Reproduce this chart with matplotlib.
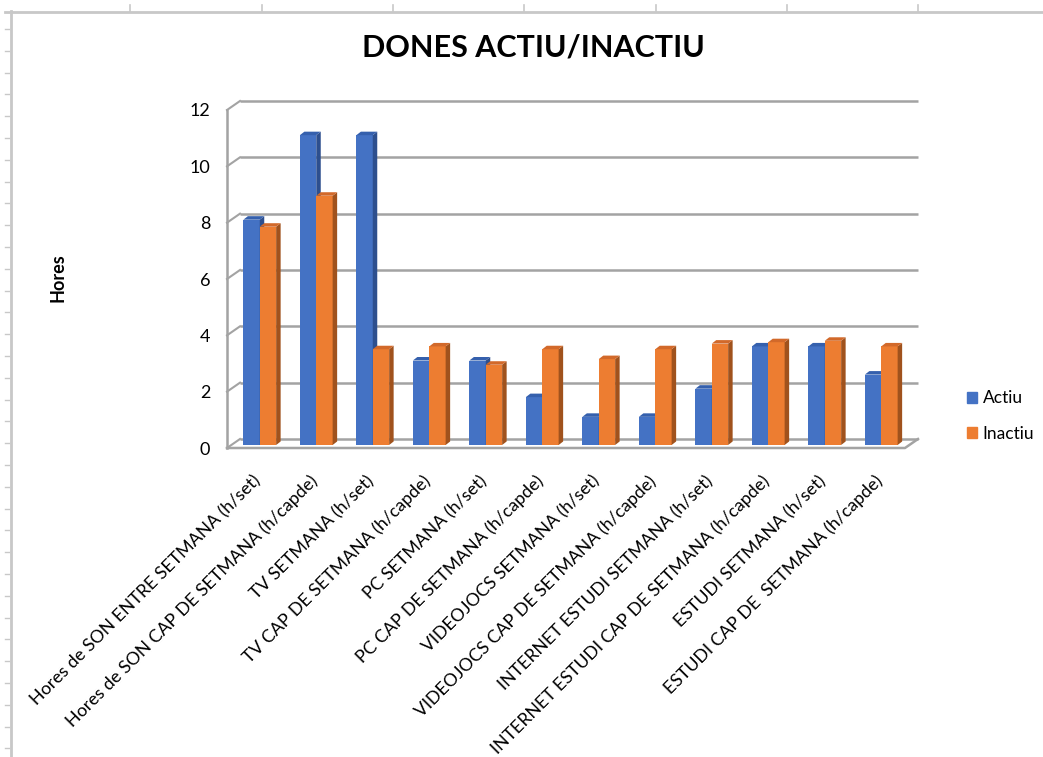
import matplotlib
matplotlib.use("Agg")
import matplotlib.pyplot as plt
from matplotlib.patches import Polygon, Patch
from matplotlib.lines import Line2D
import numpy as np

plt.rcParams['font.family'] = ['Lato', 'DejaVu Sans']

TITLE = "DONES ACTIU/INACTIU"
YLABEL = "Hores"
categories = [
    "Hores de SON ENTRE SETMANA (h/set)",
    "Hores de SON CAP DE SETMANA (h/capde)",
    "TV SETMANA (h/set)",
    "TV CAP DE SETMANA (h/capde)",
    "PC SETMANA (h/set)",
    "PC CAP DE SETMANA (h/capde)",
    "VIDEOJOCS SETMANA (h/set)",
    "VIDEOJOCS CAP DE SETMANA (h/capde)",
    "INTERNET ESTUDI SETMANA (h/set)",
    "INTERNET ESTUDI CAP DE SETMANA (h/capde)",
    "ESTUDI SETMANA (h/set)",
    "ESTUDI CAP DE  SETMANA (h/capde)",
]
actiu = [8, 11, 11, 3, 3, 1.7, 1, 1, 2, 3.5, 3.5, 2.5]
inactiu = [7.75, 8.85, 3.4, 3.5, 2.85, 3.4, 3.05, 3.4, 3.6, 3.65, 3.7, 3.5]
yticks = [0, 2, 4, 6, 8, 10, 12]

W, H = 1043, 757
fig = plt.figure(figsize=(W / 100, H / 100), dpi=100)

# plot area in pixels (front plane)
X0, X1, Y0, Y1 = 227, 905, 448, 110
ax = fig.add_axes([X0 / W, 1 - Y0 / H, (X1 - X0) / W, (Y0 - Y1) / H])
n = len(categories)
ax.set_xlim(-0.5, n - 0.5)
ax.set_ylim(0, 12)
for s in ax.spines.values():
    s.set_visible(False)

pxx = (X1 - X0) / n          # pixels per category
pxy = (Y0 - Y1) / 12         # pixels per hour

# depth of back wall and of the bar row
wall_dx, wall_dy = 13 / pxx, 9 / pxy
row_dx, row_dy = 4.5 / pxx, 3 / pxy
side_dx, side_dy = 4.5 / pxx, 3.5 / pxy
bw = 0.29

grid_c = '#a3a3a3'
for v in yticks:
    ax.plot([-0.5 + wall_dx, n - 0.5 + wall_dx], [v + wall_dy, v + wall_dy],
            color=grid_c, lw=1.8, zorder=1, clip_on=False, solid_capstyle='butt')
    ax.plot([-0.5, -0.5 + wall_dx], [v, v + wall_dy], color=grid_c, lw=1.5,
            zorder=1, clip_on=False)
ax.plot([-0.5, -0.5], [0, 12], color=grid_c, lw=1.8, zorder=1, clip_on=False)
ax.plot([-0.5, n - 0.5, n - 0.5 + wall_dx], [0, 0, wall_dy], color=grid_c,
        lw=1.8, zorder=1, clip_on=False)

x = np.arange(n)


def draw_series(lefts, vals, front, side, top):
    bars = ax.bar(lefts, vals, width=bw, bottom=row_dy, align='edge',
                  color=front, zorder=3, linewidth=0)
    for b in bars:
        l, r = b.get_x(), b.get_x() + b.get_width()
        t = b.get_y() + b.get_height()
        ax.add_patch(Polygon([(r, row_dy), (r + side_dx, row_dy + side_dy),
                              (r + side_dx, t + side_dy), (r, t)],
                             closed=True, color=side, lw=0, zorder=3))
        ax.add_patch(Polygon([(l, t), (r, t), (r + side_dx, t + side_dy),
                              (l + side_dx, t + side_dy)],
                             closed=True, color=top, lw=0, zorder=3))


draw_series(x + row_dx - bw, actiu, '#4472c4', '#2d4f8e', '#3560ad')
draw_series(x + row_dx, inactiu, '#ed7d31', '#a0521d', '#d2692a')

ax.set_yticks(yticks)
ax.set_yticklabels([str(v) for v in yticks], fontsize=13)
ax.tick_params(axis='y', length=0, pad=12)
ax.set_xticks(x + 0.05)
ax.set_xticklabels(categories, rotation=45, ha='right', va='center',
                   rotation_mode='anchor', fontsize=12.8)
ax.tick_params(axis='x', length=0, pad=22)

fig.text(533 / W, 1 - 48 / H, TITLE, ha='center', va='center',
         fontsize=22, fontweight='bold')
fig.text(58 / W, 1 - 278 / H, YLABEL, ha='center', va='center', rotation=90,
         fontsize=13, fontweight='bold')

handles = [Patch(color='#4472c4', label='Actiu'),
           Patch(color='#ed7d31', label='Inactiu')]
fig.legend(handles=handles, loc='center left', frameon=False, borderpad=0,
           borderaxespad=0, bbox_to_anchor=(967 / W, 1 - 416 / H),
           fontsize=12.5, handlelength=0.55, handleheight=0.55,
           handletextpad=0.35, labelspacing=1.1)

# sheet border lines and row/column marks
lc = '#c8c8c8'


def fline(xs, ys, lw):
    fig.add_artist(Line2D([a / W for a in xs], [1 - b / H for b in ys],
                          color=lc, lw=lw, transform=fig.transFigure))


fline([5, W], [11.5, 11.5], 2)
fline([11, 11], [11, H], 2)
for cx in [130, 262, 393, 524, 656, 787, 918]:
    fline([cx, cx], [5, 11], 1.2)
for ry in np.arange(29, H, 21.8):
    fline([5, 9], [ry, ry], 1)

fig.savefig("out.png", dpi=100)
